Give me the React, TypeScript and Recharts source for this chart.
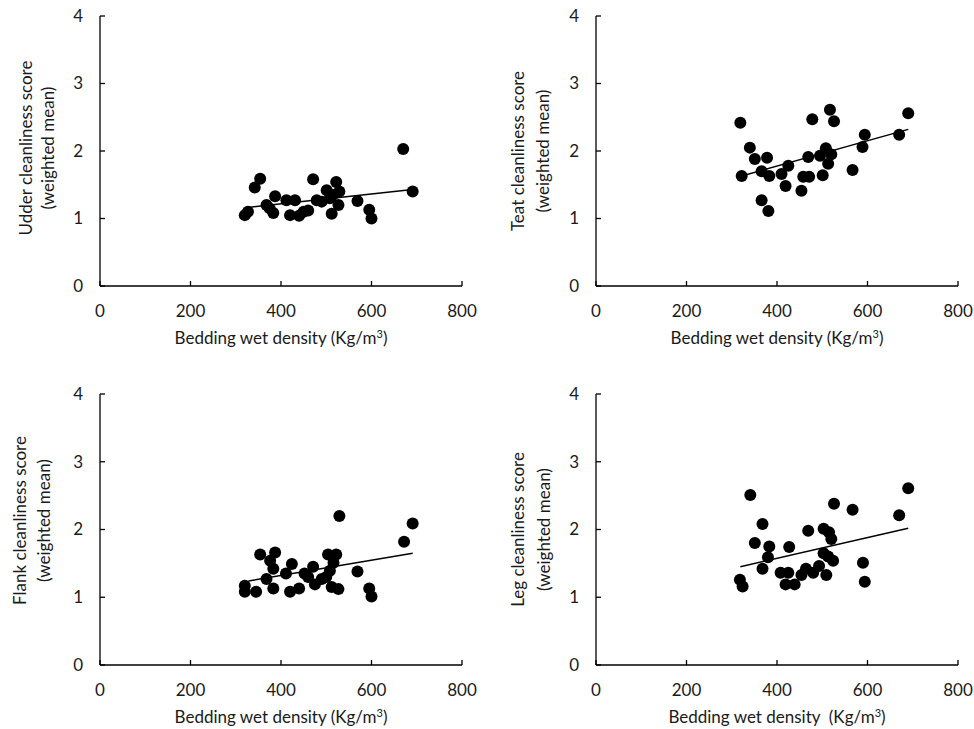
import React from "react";
import { ScatterChart, Scatter, XAxis, YAxis, Label } from "recharts";

const xTicks = [0, 200, 400, 600, 800];
const yTicks = [0, 1, 2, 3, 4];

// udder
const udderDensity = [670, 691, 354, 342, 320, 327, 387, 368, 383, 412, 431, 420, 440, 460, 471, 479, 501, 508, 522, 529, 527, 512, 569, 595, 600, 450, 490, 515, 375];
const udderScore = [2.03, 1.4, 1.59, 1.46, 1.05, 1.1, 1.33, 1.2, 1.08, 1.27, 1.27, 1.05, 1.04, 1.12, 1.58, 1.27, 1.42, 1.3, 1.54, 1.4, 1.2, 1.07, 1.26, 1.13, 1.0, 1.1, 1.25, 1.35, 1.15];
const udderTrendX = [322, 691];
const udderTrendY = [1.16, 1.43];

// teat
const teatDensity = [319, 340, 351, 378, 322, 366, 383, 366, 381, 410, 425, 419, 454, 458, 471, 469, 478, 501, 495, 508, 513, 520, 517, 526, 567, 589, 594, 670, 690];
const teatScore = [2.42, 2.05, 1.88, 1.9, 1.63, 1.7, 1.63, 1.27, 1.11, 1.66, 1.78, 1.48, 1.41, 1.62, 1.62, 1.91, 2.47, 1.64, 1.93, 2.04, 1.81, 1.95, 2.61, 2.44, 1.72, 2.06, 2.24, 2.24, 2.56];
const teatTrendX = [322, 690];
const teatTrendY = [1.63, 2.32];

// flank
const flankDensity = [529, 691, 672, 354, 387, 376, 383, 368, 320, 320, 345, 383, 424, 411, 420, 440, 460, 471, 475, 490, 504, 522, 508, 512, 527, 516, 569, 595, 600, 452, 500];
const flankScore = [2.2, 2.09, 1.82, 1.63, 1.66, 1.54, 1.42, 1.27, 1.17, 1.08, 1.08, 1.13, 1.49, 1.35, 1.08, 1.13, 1.3, 1.45, 1.19, 1.27, 1.63, 1.63, 1.39, 1.15, 1.12, 1.51, 1.38, 1.13, 1.01, 1.35, 1.3];
const flankTrendX = [328, 691];
const flankTrendY = [1.24, 1.65];

// leg
const legDensity = [341, 368, 351, 383, 380, 368, 318, 324, 427, 408, 425, 419, 439, 454, 464, 480, 493, 509, 469, 503, 515, 520, 503, 513, 524, 526, 567, 590, 594, 670, 690];
const legScore = [2.51, 2.08, 1.8, 1.75, 1.59, 1.42, 1.26, 1.16, 1.74, 1.36, 1.36, 1.19, 1.19, 1.33, 1.42, 1.36, 1.46, 1.33, 1.98, 2.01, 1.96, 1.86, 1.65, 1.6, 1.54, 2.38, 2.29, 1.51, 1.23, 2.21, 2.61];
const legTrendX = [319, 690];
const legTrendY = [1.45, 2.02];

const FONT = "Lato, 'Open Sans', sans-serif";
const TXT = "#1a1a1a";
const Y_GAP = 17;
const X_GAP = 25;

const zip = (xs: number[], ys: number[]) => xs.map((x, i) => ({ x, y: ys[i] }));

const YTick = (props: any) => {
  const { x, y, payload } = props;
  const ax = x + Y_GAP;
  return (
    <g>
      <line x1={ax} x2={ax + 5} y1={y} y2={y} stroke="#000" strokeWidth={1.3} />
      <text x={x} y={y} dy="0.35em" textAnchor="end" fontSize={17} fontFamily={FONT} fill={TXT}>
        {payload.value}
      </text>
    </g>
  );
};

const XTick = (props: any) => {
  const { x, y, payload } = props;
  const ay = y - X_GAP;
  return (
    <g>
      <line x1={x} x2={x} y1={ay} y2={ay - 5} stroke="#000" strokeWidth={1.3} />
      <text x={x} y={y} dy="0.35em" textAnchor="middle" fontSize={17} fontFamily={FONT} fill={TXT}>
        {payload.value}
      </text>
    </g>
  );
};

const Dot = (props: any) => <circle cx={props.cx} cy={props.cy} r={6} fill="#000" />;

interface PanelProps {
  left: number;
  top: number;
  yTitle: string;
  xTitle: string;
  density: number[];
  score: number[];
  trendX: number[];
  trendY: number[];
  margin: { top: number; right: number; bottom: number; left: number };
  yWidth: number;
  xHeight: number;
  line1X: number;
  line2X: number;
  labelShift: number;
}

function Panel(p: PanelProps) {
  const pts = zip(p.density, p.score);
  const trend = zip(p.trendX, p.trendY);
  return (
    <div style={{ position: "absolute", left: p.left, top: p.top }}>
      <ScatterChart width={487} height={364} margin={p.margin}>
        <XAxis
          type="number"
          dataKey="x"
          domain={[0, 800]}
          ticks={xTicks}
          tickSize={0}
          tickMargin={X_GAP}
          tick={<XTick />}
          axisLine={{ stroke: "#000", strokeWidth: 1.3 }}
          height={p.xHeight}
        >
          <Label
            content={(lp: any) => {
              const vb = lp.viewBox;
              const cx = vb.x + vb.width / 2;
              return (
                <text x={cx} y={vb.y + 52} dy="0.35em" textAnchor="middle" fontSize={17} fontFamily={FONT} fill={TXT} style={{ whiteSpace: "pre" }}>
                  {p.xTitle}
                  <tspan dy={-6} fontSize={11}>3</tspan>
                  <tspan dy={6}>)</tspan>
                </text>
              );
            }}
          />
        </XAxis>
        <YAxis
          type="number"
          dataKey="y"
          domain={[0, 4]}
          ticks={yTicks}
          tickSize={0}
          tickMargin={Y_GAP}
          tick={<YTick />}
          axisLine={{ stroke: "#000", strokeWidth: 1.3 }}
          width={p.yWidth}
        >
          <Label
            content={(lp: any) => {
              const vb = lp.viewBox;
              const cy = vb.y + vb.height / 2 + p.labelShift;
              return (
                <g>
                  <text x={p.line1X} y={cy} dominantBaseline="central" textAnchor="middle" transform={`rotate(-90, ${p.line1X}, ${cy})`} fontSize={17} fontFamily={FONT} fill={TXT}>
                    {p.yTitle}
                  </text>
                  <text x={p.line2X} y={cy} dominantBaseline="central" textAnchor="middle" transform={`rotate(-90, ${p.line2X}, ${cy})`} fontSize={17} fontFamily={FONT} fill={TXT}>
                    (weighted mean)
                  </text>
                </g>
              );
            }}
          />
        </YAxis>
        <Scatter data={pts} shape={<Dot />} isAnimationActive={false} />
        <Scatter
          data={trend}
          line={{ stroke: "#000", strokeWidth: 1.5 }}
          shape={() => <g />}
          isAnimationActive={false}
        />
      </ScatterChart>
    </div>
  );
}

export default function App() {
  return (
    <div style={{ position: "absolute", left: 0, top: 0, width: 974, height: 729, background: "#fff" }}>
      <Panel
        left={0}
        top={0}
        yTitle="Udder cleanliness score"
        xTitle="Bedding wet density (Kg/m"
        density={udderDensity}
        score={udderScore}
        trendX={udderTrendX}
        trendY={udderTrendY}
        margin={{ top: 16, right: 25, bottom: 0, left: 0 }}
        yWidth={100}
        xHeight={78}
        line1X={25}
        line2X={47}
        labelShift={-3}
      />
      <Panel
        left={487}
        top={0}
        yTitle="Teat cleanliness score"
        xTitle="Bedding wet density (Kg/m"
        density={teatDensity}
        score={teatScore}
        trendX={teatTrendX}
        trendY={teatTrendY}
        margin={{ top: 16, right: 16, bottom: 0, left: 0 }}
        yWidth={109}
        xHeight={78}
        line1X={30}
        line2X={55}
        labelShift={0}
      />
      <Panel
        left={0}
        top={365}
        yTitle="Flank cleanliness score"
        xTitle="Bedding wet density (Kg/m"
        density={flankDensity}
        score={flankScore}
        trendX={flankTrendX}
        trendY={flankTrendY}
        margin={{ top: 29, right: 25, bottom: 0, left: 0 }}
        yWidth={100}
        xHeight={64}
        line1X={19}
        line2X={43}
        labelShift={-9}
      />
      <Panel
        left={487}
        top={365}
        yTitle="Leg cleanliness score"
        xTitle="Bedding wet density  (Kg/m"
        density={legDensity}
        score={legScore}
        trendX={legTrendX}
        trendY={legTrendY}
        margin={{ top: 29, right: 16, bottom: 0, left: 0 }}
        yWidth={109}
        xHeight={64}
        line1X={30}
        line2X={56}
        labelShift={0}
      />
    </div>
  );
}
